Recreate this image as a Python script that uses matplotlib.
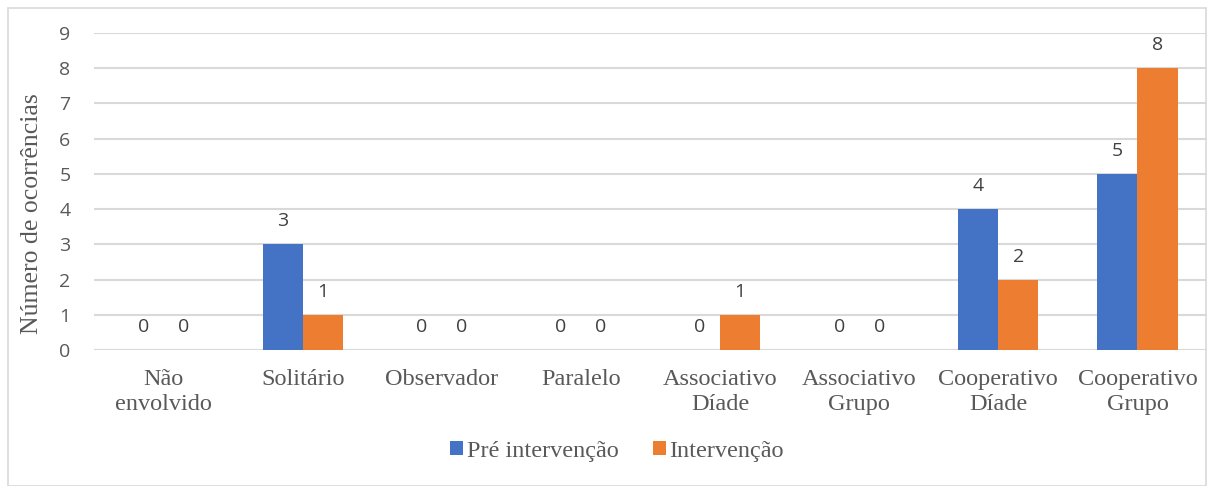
import matplotlib
matplotlib.use("Agg")
import matplotlib.pyplot as plt
import numpy as np
from matplotlib.patches import Rectangle

categories = ["Não\nenvolvido", "Solitário", "Observador", "Paralelo",
              "Associativo\nDíade", "Associativo\nGrupo", "Cooperativo\nDíade", "Cooperativo\nGrupo"]
pre = [0, 3, 0, 0, 0, 0, 4, 5]
intervencao = [0, 1, 0, 0, 1, 0, 2, 8]
series_names = ["Pré intervenção", "Intervenção"]
yticks = list(range(0, 10))

BLUE = "#4472C4"
ORANGE = "#ED7D31"
GRID = "#D9D9D9"
TXT = "#595959"

fig = plt.figure(figsize=(12.1, 4.86), dpi=100)
W, H = 1210, 486
ax = fig.add_axes([94 / W, 1 - 350 / H, (1207 - 94) / W, (350 - 33) / H])

x = np.arange(len(categories))
bw = 0.288
b1 = ax.bar(x - bw / 2, pre, bw, color=BLUE, label=series_names[0], zorder=3)
b2 = ax.bar(x + bw / 2, intervencao, bw, color=ORANGE, label=series_names[1], zorder=3)

for bars in (b1, b2):
    for r in bars:
        h = r.get_height()
        ax.annotate(f"{int(h)}", (r.get_x() + r.get_width() / 2, h), xytext=(0, 10),
                    textcoords="offset points", ha="center", va="bottom",
                    fontsize=14, color="#404040", family="Open Sans")

ax.set_xlim(-0.5, len(categories) - 0.5)
ax.set_ylim(0, 9)
ax.set_yticks(yticks)
ax.set_yticklabels([str(t) for t in yticks], family="Open Sans", fontsize=14, color=TXT)
ax.yaxis.grid(True, color=GRID, linewidth=1.5, zorder=0)
ax.set_axisbelow(True)
for s in ax.spines.values():
    s.set_visible(False)
ax.tick_params(axis="both", length=0)
ax.tick_params(axis="y", pad=17)
ax.set_xticks(x)
ax.set_xticklabels(categories, family="Liberation Serif", fontsize=17.5, color=TXT, linespacing=1.25)
ax.tick_params(axis="x", pad=13.5)
ax.axhline(0, color=GRID, linewidth=1.5, zorder=1)

fig.text(32 / W, 1 - 214 / H, "Número de ocorrências", rotation=90, ha="center", va="center",
         family="Liberation Serif", fontsize=18.5, color=TXT)

leg = fig.legend(handles=[b1, b2], labels=series_names, loc="center", bbox_to_anchor=(617 / W, 1 - 451 / H),
                 ncol=2, frameon=False, prop={"family": "Liberation Serif", "size": 17.5},
                 handlelength=0.55, handleheight=0.55, handletextpad=0.15, columnspacing=1.4)
for t in leg.get_texts():
    t.set_color(TXT)

fig.patches.append(Rectangle((8 / W, 0.5 / H), (1206 - 8) / W, (486 - 8.5) / H, transform=fig.transFigure,
                             fill=False, edgecolor="#D9D9D9", linewidth=1.2))

fig.savefig("out.png", dpi=100, facecolor="white")
